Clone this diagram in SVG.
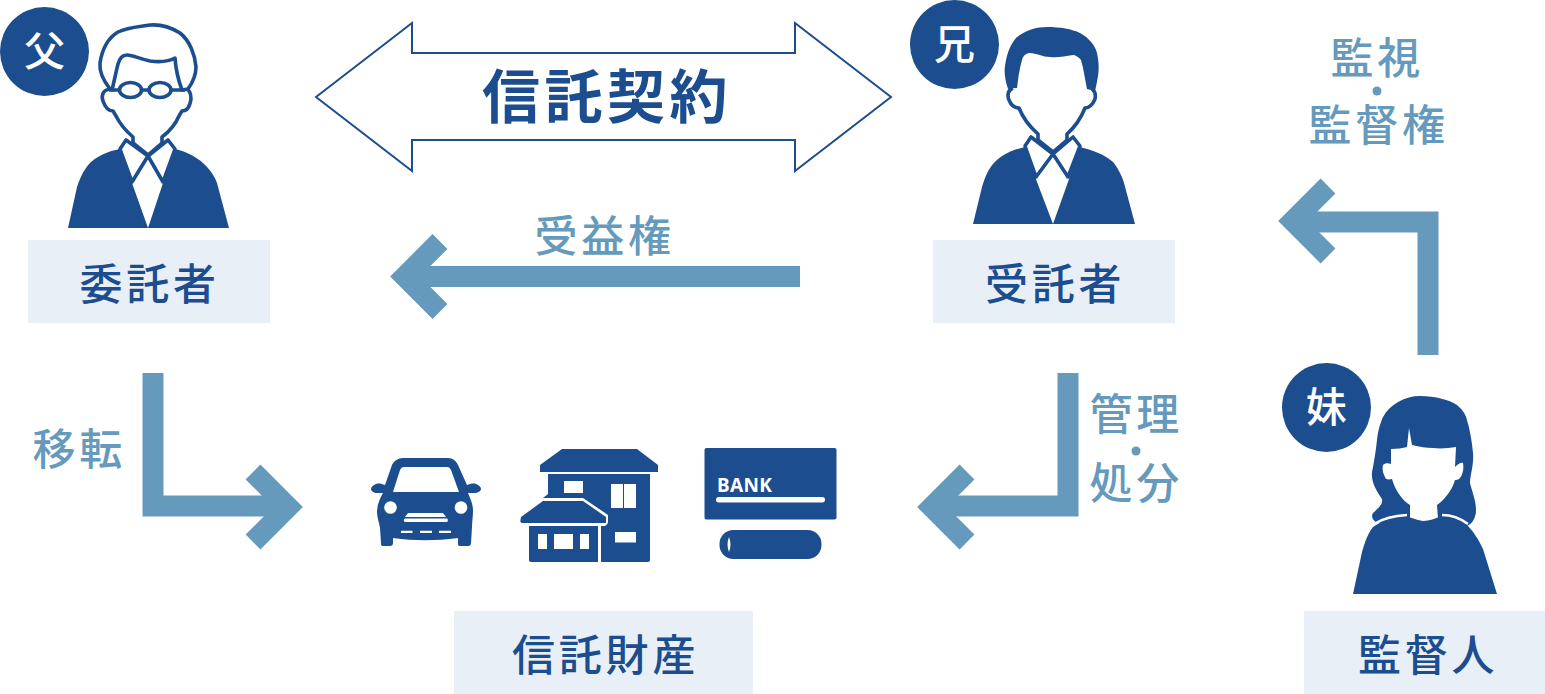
<svg xmlns="http://www.w3.org/2000/svg" width="1545" height="694" viewBox="0 0 1545 694">
<defs>
<style>
text{font-family:"Noto Sans CJK JP","Noto Sans",sans-serif;font-weight:500}
.lb{fill:#e8eff7}
.navy{fill:#1c4d8f}
.t{font-size:43px;letter-spacing:3.800px;fill:#1c4d8f}
.c{font-size:43px;letter-spacing:3.800px;fill:#659abd}
.b{font-size:41px;font-weight:500;fill:#fff;text-anchor:middle}
.ar{fill:none;stroke:#659abd;stroke-width:21;stroke-linejoin:miter;stroke-miterlimit:4}
.ln{fill:#fff;stroke:#1c4d8f;stroke-width:3.600;stroke-linejoin:round}
.w{fill:#fff}
.d{fill:#659abd}
</style>
</defs>
<rect width="1545" height="694" fill="#fff"/>
<g id="connectors">
<path class="ar" d="M800 276.500H405"/><path class="ar" d="M440 241.500L405 276.500L440 311.500"/>
<path class="ar" d="M153 373V506H287"/><path class="ar" d="M253 472L288 507L253 542"/>
<path class="ar" d="M1068 373V506H933"/><path class="ar" d="M967 472L932 507L967 542"/>
<path class="ar" d="M1428 355V222H1294"/><path class="ar" d="M1328 186L1293 221L1328 256"/>
</g>
<g id="contract">
<path d="M316 97L412 23V53H795V23L891 97L795 171V140H412V171Z" fill="#fff" stroke="#1c4d8f" stroke-width="2"/>
<text x="482" y="118" style="font-size:58px;font-weight:700;letter-spacing:4.500px;fill:#1c4d8f">信託契約</text>
</g>
<g id="father">
<path class="navy" d="M68 228L77 187C81 175 85 168 91 162C98 156 108 151 120 149L132 183L148 228L163 183L175 149C188 152 199 158 207 167C212 172 215 178 217 183L229 228Z"/>
<path class="ln" d="M126 140L120 149L132 182L148 156ZM168 140L175 149L163 182L148 156Z"/>
<path class="ln" d="M110 89C103 90 101 95 103 101C105 107 108 111 113 111L116 116C120 124 126 131 133 137V143L148 155L162 143V137C170 131 176 123 179 116L182 111C187 111 190 106 191 99C191 94 190 90 186 89"/>
<path class="ln" d="M110 89C103 80 99 72 100 63C102 50 108 38 118 32C128 27 137 27 150 25C163 24 172 28 180 33C190 41 195 55 196 67C196 75 193 82 188 89L182 90C179 82 176 72 175 58C168 62 158 62 150 61C140 59 133 55 127 55C122 55 120 58 118 64C116 72 114 82 112 90Z"/>
<ellipse class="ln" cx="130.500" cy="90" rx="11" ry="7.500"/>
<ellipse class="ln" cx="160" cy="90" rx="11" ry="7.500"/>
<path d="M141 90H149M109 90H119M171 90H185" stroke="#1c4d8f" stroke-width="3.600" fill="none"/>
<circle class="navy" cx="44.500" cy="51.500" r="44.500"/>
<text class="b" x="44.500" y="66">父</text>
<rect class="lb" x="28" y="240" width="242" height="83"/>
<text class="t" x="79.500" y="300">委託者</text>
</g>
<g id="brother">
<path class="navy" d="M973 224L982 187C985 177 988 170 993 164C1000 156 1011 150 1025 147L1037 182L1053 224L1068 182L1080 147C1092 150 1104 154 1113 162C1118 168 1122 176 1124 183L1135 224Z"/>
<path class="ln" d="M1031 137L1025 146L1036 177L1053 154ZM1073 137L1080 146L1068 177L1053 154Z"/>
<path class="ln" d="M1013 88C1008 90 1007 95 1009 100C1011 105 1015 108 1019 108C1023 118 1030 127 1038 134V140L1053 152L1067 140V134C1075 127 1081 118 1085 108C1089 108 1093 104 1095 99C1096 94 1095 91 1092 89"/>
<path class="navy" d="M1008 89C1005 80 1004 72 1005 66C1007 52 1011 44 1016 38C1025 30 1037 27 1047 27C1060 27 1072 29 1080 33C1089 38 1095 45 1097 53C1099 62 1099 70 1098 76C1097 82 1096 87 1095 91L1087 89C1085 80 1084 70 1081 60C1079 57 1075 55 1073 55C1065 56 1058 58 1050 57C1043 57 1036 53 1030 53C1026 53 1023 56 1022 60C1019 70 1018 80 1017 88L1012 88Z"/>
<circle class="navy" cx="954.500" cy="44.500" r="44.500"/>
<text class="b" x="954.500" y="59">兄</text>
<rect class="lb" x="933" y="240" width="242" height="83"/>
<text class="t" x="985" y="300">受託者</text>
</g>
<g id="sister">
<path class="navy" d="M1377 523C1372 520 1371 516 1373 513C1378 508 1383 505 1382 499C1376 490 1371 482 1372 472C1374 462 1376 450 1377 440C1378 430 1380 424 1383 417C1390 404 1405 396 1420 396C1435 396 1450 400 1457 405C1463 410 1466 415 1467 420C1470 430 1472 442 1473 453C1474 465 1470 475 1470 483C1472 492 1476 500 1476 510C1476 518 1472 524 1467 526Z"/>
<path class="w" d="M1391 449C1397 449 1403 448 1407 447L1409 428L1412 445C1420 447 1426 448 1433 448C1441 449 1449 448 1456 447L1455 467C1458 464 1461 462 1463 463C1464 468 1463 474 1460 478C1458 480 1456 480 1455 480C1453 487 1447 498 1437 505L1438 519C1428 522 1420 522 1410 519V505C1402 500 1395 490 1392 479C1388 480 1385 479 1385 477C1383 473 1382 469 1383 465C1385 463 1388 463 1391 464Z"/>
<path class="navy" d="M1353 594L1362 552C1365 542 1368 533 1373 527C1380 522 1390 518 1400 517C1410 516 1415 520 1423 521C1430 521 1435 518 1440 517C1450 517 1460 521 1467 525C1473 531 1479 540 1483 549L1497 594Z"/>
<path fill="none" stroke="#fff" stroke-width="2.500" d="M1376 523C1384 518 1394 516 1407 515M1442 515C1452 515 1460 518 1468 524"/>
<circle class="navy" cx="1326.500" cy="407.500" r="44.500"/>
<text class="b" x="1326.500" y="422">妹</text>
<rect class="lb" x="1304" y="611" width="241" height="83"/>
<text class="t" x="1358" y="671">監督人</text>
</g>
<g id="assets">
<g id="car">
<path class="navy" d="M403 458H448C453 458 456 461 458 465L467 485C470 484 473 483 476 484C479 485 481 487 481 489C481 491 478 493 474 493H468C471 500 473 505 473 510C473 517 472 522 472 527L471 543C471 545 470 546 468 546H460C458 546 458 545 458 543V538C435 541 415 541 393 538V543C393 545 392 546 390 546H383C381 546 381 545 381 543L380 528C379 522 377 517 377 512C377 505 380 498 383 493H377C374 493 371 491 371 489C371 487 373 485 376 484C379 483 382 484 385 485L392 465C394 461 398 458 403 458Z"/>
<path class="w" d="M404 467H447C449 467 450 468 451 470L459 492H393L400 470C401 468 402 467 404 467Z"/>
<circle class="w" cx="390.500" cy="507.500" r="6.300"/><circle class="w" cx="461" cy="507.500" r="6.300"/>
<path class="w" d="M408 513H443L446 517H405ZM405 518.500H447C448 518.500 448 522 447 522H405C403.500 522 403.500 518.500 405 518.500Z"/>
<path fill="none" stroke="#fff" stroke-width="2.200" d="M401 531.800H412.500M420 531.800H432M439 531.800H451"/>
</g>
<g id="house">
<path class="navy" d="M562 449H637L658 465V472H540V465Z"/>
<path class="navy" d="M548 474H650V560C650 561 649 562 648 562H601V526H605C607 525 608 523 608 522V515L583 498H543L548 494Z"/>
<path class="navy" d="M543 501H583L606 517V523H522C521 523 520 522 520.500 520L521 517Z"/>
<path class="navy" d="M529 526H598V562H531C530 562 529 561 529 560Z"/>
<rect class="w" x="564" y="481" width="19" height="12"/>
<rect class="w" x="611" y="484" width="12" height="24"/><rect class="w" x="624" y="484" width="12" height="24"/>
<rect class="w" x="615" y="532" width="21" height="10.500"/>
<rect class="w" x="538" y="534" width="9" height="15"/><rect class="w" x="554" y="534" width="19" height="15"/><rect class="w" x="580" y="534" width="9" height="15"/>
</g>
<g id="bank">
<rect class="navy" x="704.500" y="448" width="132" height="71.500" rx="2"/>
<text x="717" y="491.500" style="font-size:19px;font-weight:700;letter-spacing:.3px;fill:#fff;font-family:'Noto Sans',sans-serif">BANK</text>
<rect class="w" x="716" y="497" width="109" height="5.500" rx="2.700"/>
<rect class="navy" x="719.500" y="530" width="102" height="29" rx="14"/>
<path class="w" d="M729 537C731 542 731 547 729 552C727 547 727 542 729 537Z"/>
</g>
<rect class="lb" x="454" y="611" width="299" height="83"/>
<text class="t" x="512" y="671">信託財産</text>
</g>
<g id="labels">
<text class="c" x="534.500" y="252">受益権</text>
<text class="c" x="32.500" y="465">移転</text>
<text class="c" x="1089.500" y="430">管理</text>
<circle class="d" cx="1136" cy="451" r="4.500"/>
<text class="c" x="1089.500" y="499">処分</text>
<text class="c" x="1330.500" y="74">監視</text>
<circle class="d" cx="1377" cy="91" r="4.500"/>
<text class="c" x="1308.500" y="141">監督権</text>
</g>
</svg>
